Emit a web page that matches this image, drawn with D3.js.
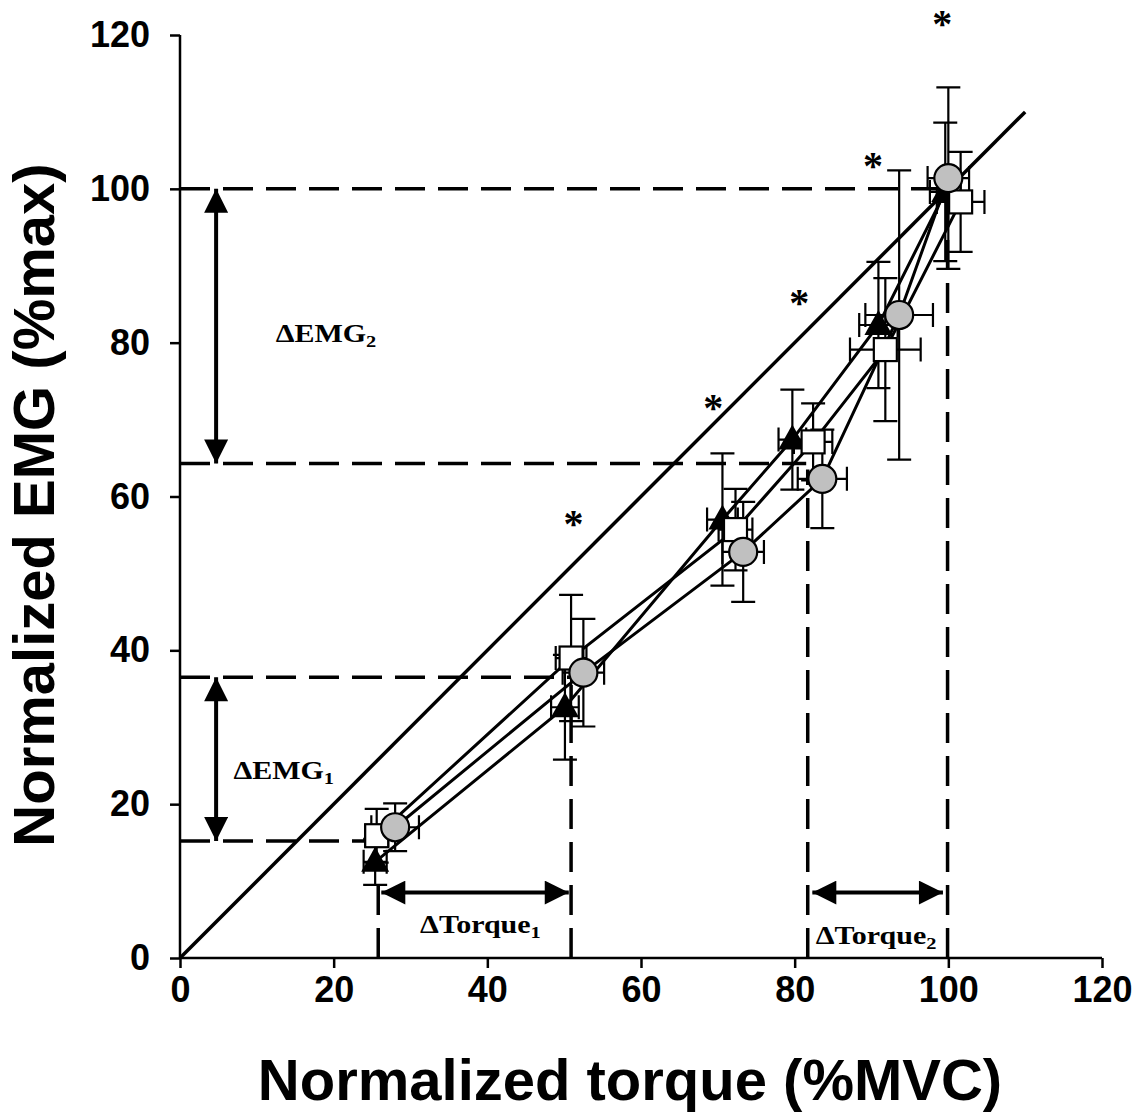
<!DOCTYPE html>
<html><head><meta charset="utf-8">
<script src="https://cdn.jsdelivr.net/npm/d3@7"></script>
<style>body{margin:0;background:#fff}svg{display:block}</style>
</head><body>
<script>
const xTicks = [0, 20, 40, 60, 80, 100, 120];
const yTicks = [0, 20, 40, 60, 80, 100, 120];

const triX = [25.4, 50.1, 70.6, 79.7, 90.9, 99.6];
const triY = [12.5, 32.6, 57.0, 67.4, 82.3, 99.6];
const triXErr = [1.5, 1.8, 2.0, 1.8, 2.5, 2.0];
const triYErr = [3.0, 6.8, 8.6, 6.5, 8.2, 9.0];

const sqX = [25.6, 50.9, 72.3, 82.4, 91.8, 101.6];
const sqY = [15.9, 39.0, 55.7, 67.1, 79.1, 98.3];
const sqXErr = [1.5, 2.0, 2.2, 2.5, 4.6, 3.1];
const sqYErr = [3.5, 8.2, 5.3, 5.0, 9.3, 6.5];

const cirX = [28.0, 52.5, 73.3, 83.6, 93.6, 100.0];
const cirY = [17.0, 37.1, 52.8, 62.3, 83.6, 101.4];
const cirXErr = [3.1, 2.7, 2.7, 3.2, 4.4, 2.7];
const cirYErr = [3.1, 7.0, 6.5, 6.4, 18.8, 11.8];

// asterisk visual centres
const starX = [51.2, 69.4, 80.6, 90.2, 99.2];
const starY = [57.2, 72.3, 86.0, 103.8, 122.2];

// dashed reference lines: [x1,y1,x2,y2]
const dashedH = [[0, 100, 100, 100], [0, 64.3, 81.5, 64.3], [0, 36.5, 51, 36.5], [0, 15.2, 25.5, 15.2]];
const dashedV = [[25.8, 0, 25.8, 10.5], [50.9, 0, 50.9, 35.5], [81.7, 0, 81.7, 63.5], [99.9, 0, 99.9, 99.5]];
// double arrows
const arrows = [[4.7, 100, 4.7, 64.3], [4.7, 36.5, 4.7, 15.2], [26.2, 8.5, 50.6, 8.5], [82.3, 8.5, 99.3, 8.5]];
const labels = [
  {t: "ΔEMG", s: "2", x: 19.0, y: 80.1},
  {t: "ΔEMG", s: "1", x: 13.5, y: 23.3},
  {t: "ΔTorque", s: "1", x: 39.1, y: 3.25},
  {t: "ΔTorque", s: "2", x: 90.6, y: 1.8}
];

const W = 1139, H = 1112;
const m = {l: 180, t: 35, r: 37, b: 154};
const svg = d3.select("body").append("svg").attr("width", W).attr("height", H);
const x = d3.scaleLinear().domain([0, 120]).range([m.l, W - m.r]);
const y = d3.scaleLinear().domain([0, 120]).range([H - m.b, m.t]);

const font = "'Liberation Sans', Arial, sans-serif";
const serif = "'Liberation Serif', 'Times New Roman', serif";

// axes
const xAxis = svg.append("g").attr("transform", `translate(0,${y(0)})`)
  .call(d3.axisBottom(x).tickValues(xTicks).tickSize(10).tickPadding(8));
const yAxis = svg.append("g").attr("transform", `translate(${x(0)},0)`)
  .call(d3.axisLeft(y).tickValues(yTicks).tickSize(10).tickPadding(20));
[xAxis, yAxis].forEach(g => {
  g.select(".domain").attr("stroke-width", 2.5);
  g.selectAll(".tick line").attr("stroke-width", 2.5);
  g.selectAll(".tick text").attr("font-family", font).attr("font-weight", "bold")
    .attr("font-size", 36).attr("fill", "#000");
});
xAxis.selectAll(".domain").attr("d", `M${x(0)},0H${x(120)}`);
yAxis.selectAll(".domain").attr("d", `M0,${y(0)}V${y(120)}`);

svg.append("text").attr("x", 630).attr("y", 1100).attr("text-anchor", "middle")
  .attr("font-family", font).attr("font-weight", "bold").attr("font-size", 58)
  .text("Normalized torque (%MVC)");
svg.append("text").attr("transform", `translate(54,${505}) rotate(-90)`).attr("text-anchor", "middle")
  .attr("font-family", font).attr("font-weight", "bold").attr("font-size", 58)
  .text("Normalized EMG (%max)");

const plot = svg.append("g");

// identity line
plot.append("line").attr("x1", x(0)).attr("y1", y(0)).attr("x2", x(110)).attr("y2", y(110))
  .attr("stroke", "#000").attr("stroke-width", 3.5);

// dashed lines
dashedH.concat(dashedV).forEach(d => {
  plot.append("line").attr("x1", x(d[0])).attr("y1", y(d[1])).attr("x2", x(d[2])).attr("y2", y(d[3]))
    .attr("stroke", "#000").attr("stroke-width", 3.5).attr("stroke-dasharray", "30,13");
});

// arrowheads
const defs = svg.append("defs");
defs.append("marker").attr("id", "ah").attr("viewBox", "0 0 10 10").attr("refX", 10).attr("refY", 5)
  .attr("markerUnits", "userSpaceOnUse").attr("markerWidth", 26).attr("markerHeight", 24)
  .attr("orient", "auto-start-reverse")
  .append("path").attr("d", "M0,0L10,5L0,10Z").attr("fill", "#000");
arrows.forEach(d => {
  plot.append("line").attr("x1", x(d[0])).attr("y1", y(d[1])).attr("x2", x(d[2])).attr("y2", y(d[3]))
    .attr("stroke", "#000").attr("stroke-width", 4)
    .attr("marker-start", "url(#ah)").attr("marker-end", "url(#ah)");
});

labels.forEach(l => {
  const t = plot.append("text")
    .attr("transform", `translate(${x(l.x)},${y(l.y)}) scale(1.2,1)`)
    .attr("text-anchor", "middle")
    .attr("font-family", serif).attr("font-weight", "bold").attr("font-size", 25).attr("fill", "#000");
  t.append("tspan").text(l.t);
  t.append("tspan").attr("font-size", 17).attr("dy", 5).text(l.s);
});

// series
const series = [
  {xs: triX, ys: triY, xe: triXErr, ye: triYErr, type: "tri"},
  {xs: sqX, ys: sqY, xe: sqXErr, ye: sqYErr, type: "sq"},
  {xs: cirX, ys: cirY, xe: cirXErr, ye: cirYErr, type: "cir"}
];
const cap = 12;
series.forEach(s => {
  const g = plot.append("g");
  s.xs.forEach((xv, i) => {
    const yv = s.ys[i];
    const px = x(xv), py = y(yv);
    const y1 = y(yv + s.ye[i]), y2 = y(yv - s.ye[i]);
    const x1 = x(xv - s.xe[i]), x2 = x(xv + s.xe[i]);
    const p = `M${px},${y1}V${y2}M${px - cap},${y1}H${px + cap}M${px - cap},${y2}H${px + cap}` +
      `M${x1},${py}H${x2}M${x1},${py - cap}V${py + cap}M${x2},${py - cap}V${py + cap}`;
    g.append("path").attr("d", p).attr("stroke", "#000").attr("stroke-width", 2.2).attr("fill", "none");
  });
});
series.forEach(s => {
  const pts = s.xs.map((xv, i) => [x(xv), y(s.ys[i])]);
  plot.append("path").attr("d", d3.line()(pts)).attr("fill", "none").attr("stroke", "#000").attr("stroke-width", 3);
});
series.forEach(s => {
  const g = plot.append("g");
  s.xs.forEach((xv, i) => {
    const px = x(xv), py = y(s.ys[i]);
    if (s.type === "tri") {
      g.append("path").attr("d", `M${px},${py - 15}L${px + 14},${py + 10}L${px - 14},${py + 10}Z`).attr("fill", "#000");
    } else if (s.type === "sq") {
      g.append("rect").attr("x", px - 11.5).attr("y", py - 11.5).attr("width", 23).attr("height", 23)
        .attr("fill", "#fff").attr("stroke", "#000").attr("stroke-width", 2.2);
    } else {
      g.append("circle").attr("cx", px).attr("cy", py).attr("r", 14)
        .attr("fill", "#c0c0c0").attr("stroke", "#000").attr("stroke-width", 2.2);
    }
  });
});

// asterisks (baseline offset so the glyph centre sits on the value)
starX.forEach((sx, i) => {
  plot.append("text").attr("x", x(sx)).attr("y", y(starY[i]) + 19).attr("text-anchor", "middle")
    .attr("font-family", serif).attr("font-weight", "bold").attr("font-size", 40).text("*");
});
</script>
</body></html>
